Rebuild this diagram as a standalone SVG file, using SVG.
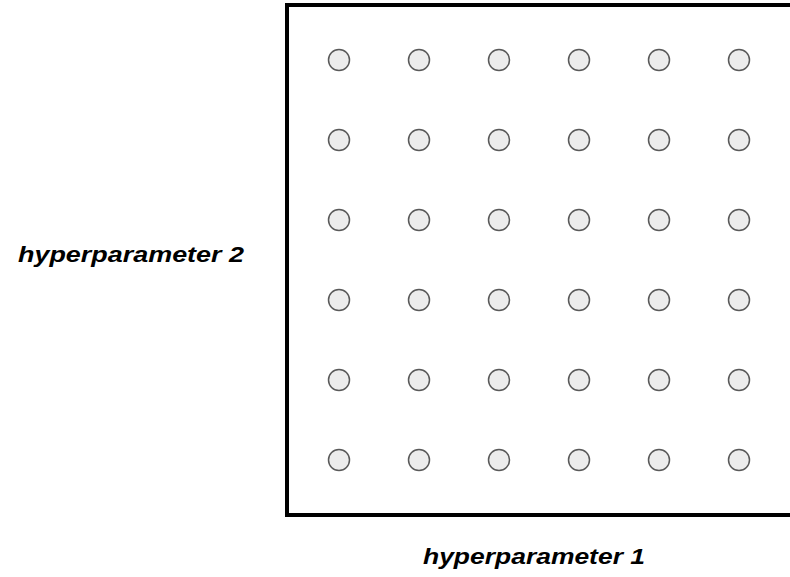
<svg xmlns="http://www.w3.org/2000/svg" width="790" height="577" viewBox="0 0 790 577">
<style>
.pt{fill:#ececec;stroke:#595959;stroke-width:1.5}
.lbl{font-family:"Liberation Sans",Arial,sans-serif;font-weight:bold;font-style:italic;font-size:22px;fill:#000}
</style>
<rect width="790" height="577" fill="#fff"/>
<g id="frame"><rect x="287" y="5" width="620" height="510" fill="none" stroke="#000" stroke-width="4"/></g>
<g id="points">
<g id="r1"><circle class="pt" cx="339" cy="60" r="10.5"/><circle class="pt" cx="419" cy="60" r="10.5"/><circle class="pt" cx="499" cy="60" r="10.5"/><circle class="pt" cx="579" cy="60" r="10.5"/><circle class="pt" cx="659" cy="60" r="10.5"/><circle class="pt" cx="739" cy="60" r="10.5"/></g>
<g id="r2"><circle class="pt" cx="339" cy="140" r="10.5"/><circle class="pt" cx="419" cy="140" r="10.5"/><circle class="pt" cx="499" cy="140" r="10.5"/><circle class="pt" cx="579" cy="140" r="10.5"/><circle class="pt" cx="659" cy="140" r="10.5"/><circle class="pt" cx="739" cy="140" r="10.5"/></g>
<g id="r3"><circle class="pt" cx="339" cy="220" r="10.5"/><circle class="pt" cx="419" cy="220" r="10.5"/><circle class="pt" cx="499" cy="220" r="10.5"/><circle class="pt" cx="579" cy="220" r="10.5"/><circle class="pt" cx="659" cy="220" r="10.5"/><circle class="pt" cx="739" cy="220" r="10.5"/></g>
<g id="r4"><circle class="pt" cx="339" cy="300" r="10.5"/><circle class="pt" cx="419" cy="300" r="10.5"/><circle class="pt" cx="499" cy="300" r="10.5"/><circle class="pt" cx="579" cy="300" r="10.5"/><circle class="pt" cx="659" cy="300" r="10.5"/><circle class="pt" cx="739" cy="300" r="10.5"/></g>
<g id="r5"><circle class="pt" cx="339" cy="380" r="10.5"/><circle class="pt" cx="419" cy="380" r="10.5"/><circle class="pt" cx="499" cy="380" r="10.5"/><circle class="pt" cx="579" cy="380" r="10.5"/><circle class="pt" cx="659" cy="380" r="10.5"/><circle class="pt" cx="739" cy="380" r="10.5"/></g>
<g id="r6"><circle class="pt" cx="339" cy="460" r="10.5"/><circle class="pt" cx="419" cy="460" r="10.5"/><circle class="pt" cx="499" cy="460" r="10.5"/><circle class="pt" cx="579" cy="460" r="10.5"/><circle class="pt" cx="659" cy="460" r="10.5"/><circle class="pt" cx="739" cy="460" r="10.5"/></g>
</g>
<g id="connectors"></g>
<g id="label-y"><text class="lbl" x="18" y="262" textLength="226" lengthAdjust="spacingAndGlyphs">hyperparameter 2</text></g>
<g id="label-x"><text class="lbl" x="423" y="564" textLength="222" lengthAdjust="spacingAndGlyphs">hyperparameter 1</text></g>
</svg>
